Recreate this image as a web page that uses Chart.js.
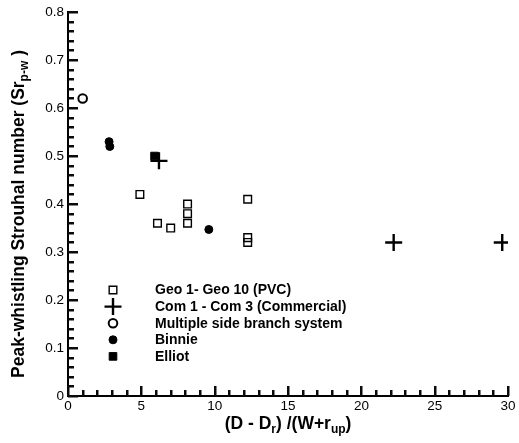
<!DOCTYPE html>
<html lang="en">
  <head>
    <meta charset="UTF-8" />
    <title>Peak-whistling Strouhal number</title>
    <script src="https://cdn.jsdelivr.net/npm/chart.js@4"></script>
    <style>
      body { margin: 0; background: #fff; }
      .chart { width: 519px; height: 443px; }
    </style>
  </head>
  <body>
    <div class="chart">
      <canvas id="myChart"></canvas>
    </div>
    <script>
      // series read as [x, y] pairs: x = (D - Dr)/(W + r_up), y = Sr_p-w
      const geoX = [4.9, 6.1, 7.0, 8.15, 8.15, 8.15, 12.25, 12.25, 12.25];
      const geoY = [0.42, 0.36, 0.35, 0.40, 0.38, 0.36, 0.41, 0.33, 0.32];
      const comX = [6.2, 22.2, 29.6];
      const comY = [0.49, 0.32, 0.32];
      const multiX = [1.0];
      const multiY = [0.62];
      const binnieX = [2.8, 2.85, 9.6];
      const binnieY = [0.53, 0.52, 0.347];
      const elliotX = [5.9];
      const elliotY = [0.50];

      const labels = [
        'Geo 1- Geo 10 (PVC)',
        'Com 1 - Com 3 (Commercial)',
        'Multiple side branch system',
        'Binnie',
        'Elliot'
      ];

      const pts = (xs, ys) => xs.map((x, i) => ({ x: x, y: ys[i] }));
      const FONT = '"Liberation Sans", Arial, sans-serif';

      // inward major/minor tick marks
      const innerTicks = {
        id: 'innerTicks',
        afterDraw(chart) {
          const c = chart.ctx;
          const xs = chart.scales.x, ys = chart.scales.y;
          c.save();
          c.fillStyle = 'rgb(10,10,10)';
          for (let v = 0; v <= 30; v++) {
            const px = Math.round(xs.getPixelForValue(v));
            const len = v % 5 === 0 ? 10 : 6;
            c.fillRect(px - 1, ys.bottom - len, 2.5, len);
          }
          for (let k = 0; k <= 40; k++) {
            const py = Math.round(ys.getPixelForValue(k / 50));
            const len = k % 5 === 0 ? 10 : 6;
            c.fillRect(xs.left, py - 1, len, 2.5);
          }
          c.restore();
        }
      };

      // in-plot legend and axis titles with subscripts
      const decor = {
        id: 'decor',
        afterDraw(chart) {
          const c = chart.ctx;
          const xs = chart.scales.x;
          c.save();

          const lx = 113, ly0 = 290, dy = 16.6;
          chart.data.datasets.forEach((ds, i) => {
            const y = ly0 + i * dy;
            c.fillStyle = ds.backgroundColor;
            c.strokeStyle = ds.borderColor;
            c.lineWidth = ds.borderWidth;
            Chart.helpers.drawPoint(c, {
              pointStyle: ds.pointStyle,
              radius: ds.pointRadius,
              rotation: 0,
              borderWidth: ds.borderWidth
            }, lx, y);
            c.fillStyle = '#000';
            c.font = 'bold 14px ' + FONT;
            c.textAlign = 'left';
            c.textBaseline = 'middle';
            c.fillText(ds.label, 155, y + 0.5);
          });

          const main = 'bold 17.5px ' + FONT;
          const sub = 'bold 12px ' + FONT;
          const drawParts = (parts, cx, cy) => {
            let w = 0;
            parts.forEach(p => { c.font = p[1] ? sub : main; w += c.measureText(p[0]).width; });
            let x = cx - w / 2;
            c.textAlign = 'left';
            c.textBaseline = 'alphabetic';
            parts.forEach(p => {
              c.font = p[1] ? sub : main;
              c.fillText(p[0], x, cy + (p[1] ? 4 : 0));
              x += c.measureText(p[0]).width;
            });
          };
          c.fillStyle = '#000';
          drawParts([['(D - D', 0], ['r', 1], [') /(W+r', 0], ['up', 1], [')', 0]],
            (xs.left + xs.right) / 2, 429);

          c.translate(24, 214);
          c.rotate(-Math.PI / 2);
          drawParts([['Peak-whistling Strouhal number (Sr', 0], ['p-w', 1], [' )', 0]], 0, 0);
          c.restore();
        }
      };

      const ctx = document.getElementById('myChart').getContext('2d');
      const myChart = new Chart(ctx, {
        type: 'scatter',
        data: {
          datasets: [
            {
              label: labels[0],
              data: pts(geoX, geoY),
              pointStyle: 'rect',
              pointRadius: 5.4,
              borderWidth: 1.4,
              borderColor: '#000',
              backgroundColor: 'rgba(0,0,0,0)'
            },
            {
              label: labels[1],
              data: pts(comX, comY),
              pointStyle: 'cross',
              pointRadius: 8.5,
              borderWidth: 2.4,
              borderColor: '#000',
              backgroundColor: 'rgba(0,0,0,0)'
            },
            {
              label: labels[2],
              data: pts(multiX, multiY),
              pointStyle: 'circle',
              pointRadius: 4.3,
              borderWidth: 2,
              borderColor: '#000',
              backgroundColor: 'rgba(0,0,0,0)'
            },
            {
              label: labels[3],
              data: pts(binnieX, binnieY),
              pointStyle: 'circle',
              pointRadius: 4,
              borderWidth: 1,
              borderColor: '#000',
              backgroundColor: '#000'
            },
            {
              label: labels[4],
              data: pts(elliotX, elliotY),
              pointStyle: 'rect',
              pointRadius: 5.4,
              borderWidth: 1,
              borderColor: '#000',
              backgroundColor: '#000'
            }
          ]
        },
        options: {
          responsive: true,
          maintainAspectRatio: false,
          animation: false,
          layout: { padding: { top: 9, right: 8, left: 0, bottom: 0 } },
          plugins: {
            legend: { display: false },
            tooltip: { enabled: false }
          },
          scales: {
            x: {
              type: 'linear',
              min: 0,
              max: 30,
              ticks: {
                stepSize: 5,
                color: '#000',
                padding: 2,
                maxRotation: 0,
                font: { family: FONT, size: 13.5 }
              },
              grid: { drawOnChartArea: false, drawTicks: false, color: 'rgba(0,0,0,0)' },
              border: { display: true, color: '#000', width: 2 },
              afterFit: s => { s.height = 47; }
            },
            y: {
              type: 'linear',
              min: 0,
              max: 0.8,
              ticks: {
                stepSize: 0.1,
                color: '#000',
                padding: 4,
                font: { family: FONT, size: 13.5 }
              },
              grid: { drawOnChartArea: false, drawTicks: false, color: 'rgba(0,0,0,0)' },
              border: { display: true, color: '#000', width: 2 },
              afterFit: s => { s.width = 68; }
            }
          }
        },
        plugins: [innerTicks, decor]
      });
    </script>
  </body>
</html>
